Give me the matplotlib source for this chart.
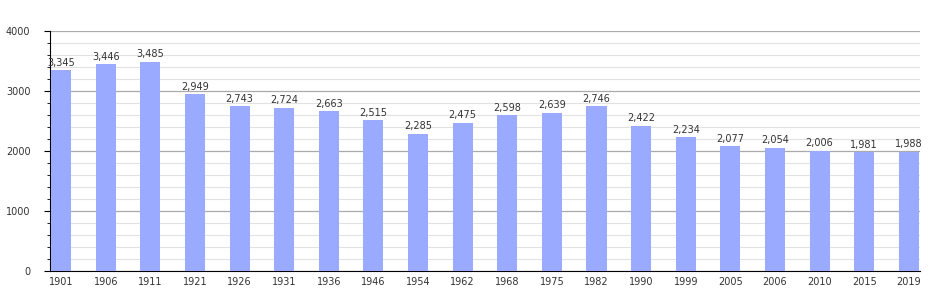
import matplotlib
matplotlib.use("Agg")
import matplotlib.pyplot as plt
from matplotlib.ticker import MultipleLocator

years = ["1901", "1906", "1911", "1921", "1926", "1931", "1936", "1946", "1954", "1962",
         "1968", "1975", "1982", "1990", "1999", "2005", "2006", "2010", "2015", "2019"]
population = [3345, 3446, 3485, 2949, 2743, 2724, 2663, 2515, 2285, 2475,
              2598, 2639, 2746, 2422, 2234, 2077, 2054, 2006, 1981, 1988]

fig = plt.figure(figsize=(9.5, 3.0), dpi=100)
ax = fig.add_axes([50/950, 29/300, 870/950, 240/300])

x = list(range(len(years)))
ax.bar(x, population, width=0.45, color="#99aaff", zorder=3)
for xi, v in zip(x, population):
    ax.text(xi, v + 40, f"{v:,}", ha="center", va="bottom", fontsize=7, color="#333333", zorder=4)

ax.set_xlim(-0.25, len(years) - 0.75)
ax.set_ylim(0, 4000)
ax.set_xticks(x)
ax.set_xticklabels(years, fontsize=7, color="#333333")
ax.yaxis.set_major_locator(MultipleLocator(1000))
ax.yaxis.set_minor_locator(MultipleLocator(200))
ax.set_yticklabels([str(int(t)) for t in ax.get_yticks()], fontsize=7, color="#333333")
ax.grid(axis="y", which="major", color="#aaaaaa", linewidth=0.9, zorder=0)
ax.grid(axis="y", which="minor", color="#e2e2e2", linewidth=0.8, zorder=0)
ax.tick_params(axis="x", length=0, pad=4)
ax.tick_params(axis="y", which="major", length=4, pad=10)
ax.tick_params(axis="y", which="minor", length=2)
for s in ["top", "right"]:
    ax.spines[s].set_visible(False)
ax.spines["left"].set_color("black")
ax.spines["bottom"].set_color("black")

fig.savefig("out.png", dpi=100, facecolor="white")
